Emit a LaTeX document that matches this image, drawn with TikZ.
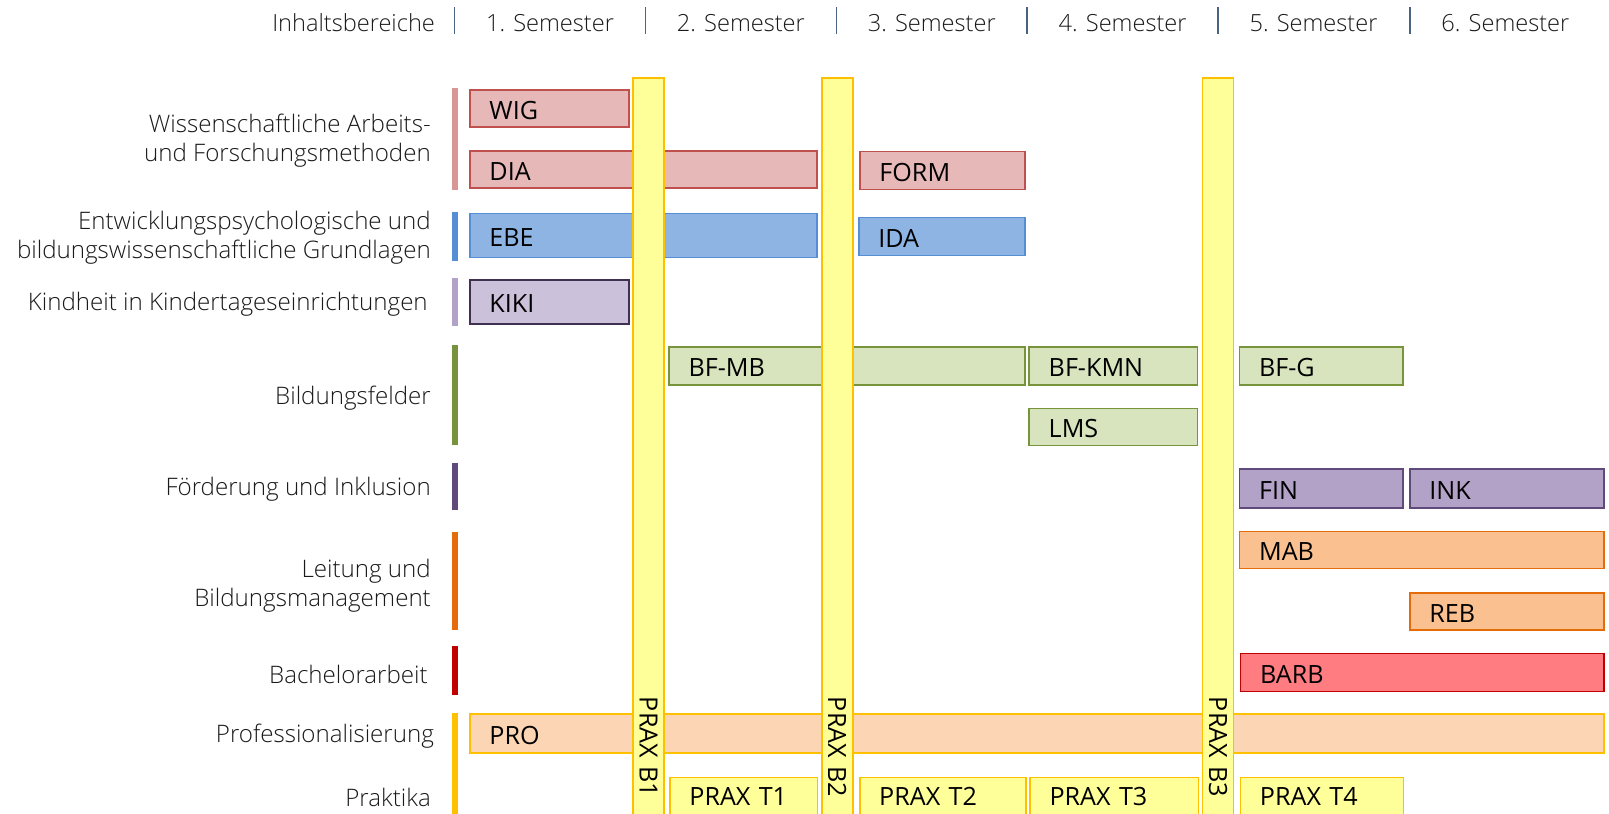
\documentclass[tikz,border=0pt]{standalone}
\usepackage{fontspec}
\setmainfont{Open Sans}
\newfontfamily\lightf{Open Sans Light}
\definecolor{pinkF}{HTML}{E6B9B8}\definecolor{pinkD}{HTML}{C0504D}\definecolor{pinkBar}{HTML}{D99694}
\definecolor{blueF}{HTML}{8EB4E3}\definecolor{blueD}{HTML}{558ED5}
\definecolor{lavF}{HTML}{CCC1DA}\definecolor{lavD}{HTML}{403152}\definecolor{lavBar}{HTML}{B3A2C7}
\definecolor{greenF}{HTML}{D7E4BD}\definecolor{greenD}{HTML}{77933C}
\definecolor{purpF}{HTML}{B3A2C7}\definecolor{purpD}{HTML}{604A7B}
\definecolor{orangeF}{HTML}{FAC090}\definecolor{orangeD}{HTML}{E46C0A}
\definecolor{redF}{HTML}{FF7C80}\definecolor{redD}{HTML}{C00000}
\definecolor{proF}{HTML}{FCD5B5}\definecolor{goldD}{HTML}{FFC000}
\definecolor{praxF}{HTML}{FFFF99}
\definecolor{sepC}{HTML}{4A6382}
\definecolor{labC}{HTML}{1A1A1A}
\begin{document}
\begin{tikzpicture}[x=1pt,y=-1pt,scale=1.02615,transform shape,
  box/.style={draw, line width=1.6pt, inner ysep=0pt, inner xsep=19pt, align=left, text=black, text height=21pt, text depth=0pt, font=\fontsize{24.5}{28}\selectfont},
  catlabel/.style={anchor=east, align=right, text=labC, inner sep=0pt, font=\lightf\fontsize{23.5}{28}\selectfont},
  hdr/.style={text=labC, inner sep=0pt, font=\lightf\fontsize{23}{28}\selectfont},
  sepline/.style={draw=sepC, line width=1.5pt},
  catbar/.style={line width=6pt},
  praxbar/.style={draw=goldD, fill=praxF, line width=1.6pt, rotate=-90, anchor=west, minimum height=30, inner ysep=0pt, inner xsep=59pt, text width=642, align=right, text=black, font=\fontsize{24.5}{28}\selectfont},
  praxt/.style={box, draw=goldD, fill=praxF, anchor=north west, inner ysep=6pt, text depth=40pt}
]
\useasboundingbox (0,0) rectangle (1568,792.3);
\fill[white] (0,0) rectangle (1568,792.3);
% header
\node[hdr, anchor=east] (hInh) at (424,22) {Inhaltsbereiche};
\node[hdr] (h1) at (536,22) {1. Semester};
\node[hdr] (h2) at (722,22) {2. Semester};
\node[hdr] (h3) at (908,22) {3. Semester};
\node[hdr] (h4) at (1094,22) {4. Semester};
\node[hdr] (h5) at (1280,22) {5. Semester};
\node[hdr] (h6) at (1467,22) {6. Semester};
\foreach \x in {443,629,815,1001,1187,1374} \draw[sepline] (\x,7) -- (\x,33);
% category labels
\node[catlabel] (cWA) at (420,137) {Wissenschaftliche Arbeits-\\und Forschungsmethoden};
\node[catlabel] (cEB) at (420,232) {Entwicklungspsychologische und\\bildungswissenschaftliche Grundlagen};
\node[catlabel] (cKI) at (417,296) {Kindheit in Kindertageseinrichtungen};
\node[catlabel] (cBF) at (420,388) {Bildungsfelder};
\node[catlabel] (cFI) at (420,477) {Förderung und Inklusion};
\node[catlabel] (cLB) at (420,571) {Leitung und\\Bildungsmanagement};
\node[catlabel] (cBA) at (417,657) {Bachelorarbeit};
\node[catlabel] (cPR) at (423,717) {Professionalisierung};
\node[catlabel] (cPK) at (420,777) {Praktika};
% category bars
\draw[catbar, pinkBar] (443,86) -- (443,185);
\draw[catbar, blueD] (443,207) -- (443,254);
\draw[catbar, lavBar] (443,271) -- (443,318);
\draw[catbar, greenD] (443,336) -- (443,434);
\draw[catbar, purpD] (443,451) -- (443,497);
\draw[catbar, orangeD] (443,518) -- (443,614);
\draw[catbar, redD] (443,630) -- (443,677);
\draw[catbar, goldD] (443,695) -- (443,815);
% modules
\node[box, fill=pinkF, draw=pinkD, minimum height=36, text width=117] (WIG) at (535.5,106) {WIG};
\node[box, fill=pinkF, draw=pinkD, minimum height=36, text width=300] (DIA) at (627,165) {DIA};
\node[box, fill=pinkF, draw=pinkD, minimum height=37, text width=123] (FORM) at (918.5,166) {FORM};
\node[box, fill=blueF, draw=blueD, minimum height=43, text width=300] (EBE) at (627,229.5) {EBE};
\node[box, fill=blueF, draw=blueD, minimum height=37, text width=124] (IDA) at (918,230.5) {IDA};
\node[box, fill=lavF, draw=lavD, minimum height=43, text width=117] (KIKI) at (535.5,294.5) {KIKI};
\node[box, fill=greenF, draw=greenD, minimum height=37, text width=309] (BFMB) at (825.5,356.5) {BF-MB};
\node[box, fill=greenF, draw=greenD, minimum height=37, text width=126] (BFKMN) at (1085,356.5) {BF-KMN};
\node[box, fill=greenF, draw=greenD, minimum height=37, text width=121] (BFG) at (1287.5,356.5) {BF-G};
\node[box, fill=greenF, draw=greenD, minimum height=36, text width=126] (LMS) at (1085,416) {LMS};
\node[box, fill=purpF, draw=purpD, minimum height=38, text width=121] (FIN) at (1287.5,476) {FIN};
\node[box, fill=purpF, draw=purpD, minimum height=38, text width=151] (INK) at (1468.5,476) {INK};
\node[box, fill=orangeF, draw=orangeD, minimum height=36, text width=317] (MAB) at (1385.5,536) {MAB};
\node[box, fill=orangeF, draw=orangeD, minimum height=36, text width=151] (REB) at (1468.5,596) {REB};
\node[box, fill=redF, draw=redD, minimum height=37, text width=316] (BARB) at (1386,655.5) {BARB};
\node[box, fill=proF, draw=goldD, minimum height=38, text width=1067] (PRO) at (1010.5,715) {PRO};
\node[praxt, text width=106] (PT1) at (652,757) {PRAX T1};
\node[praxt, text width=124] (PT2) at (837,757) {PRAX T2};
\node[praxt, text width=126] (PT3) at (1003,757) {PRAX T3};
\node[praxt, text width=121] (PT4) at (1208,757) {PRAX T4};
% Praxis blocks
\node[praxbar] (PB1) at (632,75) {PRAX B1};
\node[praxbar] (PB2) at (816,75) {PRAX B2};
\node[praxbar] (PB3) at (1187,75) {PRAX B3};
\end{tikzpicture}
\end{document}
